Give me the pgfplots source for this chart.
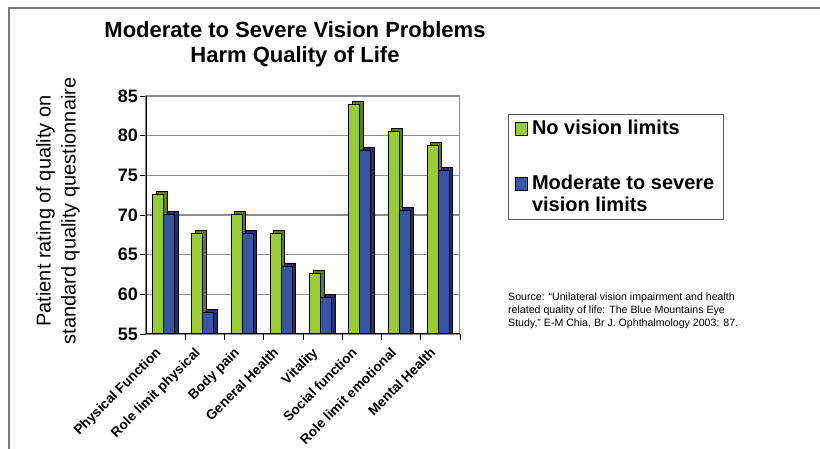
\documentclass[border=0pt]{standalone}
\usepackage{pgfplots}
\usepackage{pgfplotstable}
\pgfplotsset{compat=1.18}
\usepackage{fontspec}
\setmainfont{Liberation Sans}
\definecolor{gfront}{RGB}{153,204,51}
\definecolor{gside}{RGB}{92,124,40}
\definecolor{bfront}{RGB}{56,84,164}
\definecolor{bside}{RGB}{36,46,112}
\definecolor{framec}{RGB}{120,120,120}
\definecolor{gridc}{RGB}{140,140,140}

\pgfplotstableread{
x g b
0 72.6 70.1
1 67.7 57.7
2 70.1 67.7
3 67.7 63.6
4 62.7 59.6
5 84.0 78.1
6 80.5 70.6
7 78.8 75.6
}\data

\begin{document}
\begin{tikzpicture}[x=1pt,y=1pt]
\path[use as bounding box] (0,0) rectangle (820,449);
\draw[framec, line width=1.5pt] (9,0) -- (9,441) -- (820,441);
\node[font=\bfseries\fontsize{22}{26}\selectfont] at (295,419) {Moderate to Severe Vision Problems};
\node[font=\bfseries\fontsize{22}{26}\selectfont] at (295,392) {Harm Quality of Life};
\node[rotate=90, align=center, font=\fontsize{20}{25}\selectfont] at (58,238) {Patient rating of quality on\\standard quality questionnaire};
\node[anchor=north west, align=left, font=\fontsize{10.6}{12.8}\selectfont, inner sep=0pt] at (508,156) {Source: “Unilateral vision impairment and health\\related quality of life: The Blue Mountains Eye\\Study,” E-M Chia, Br J. Ophthalmology 2003: 87.};
\begin{axis}[
  at={(146pt,115pt)}, anchor=south west,
  scale only axis, width=314pt, height=238pt,
  xmin=-0.5, xmax=7.5, ymin=55, ymax=85,
  ytick={55,60,...,85},
  /pgf/number format/assume math mode=true,
  yticklabel style={font=\bfseries\fontsize{18}{18}\selectfont, inner sep=2pt},
  xtick={0.5,1.5,...,7.5}, xticklabels={},
  extra x ticks={0,1,2,3,4,5,6,7},
  extra x tick labels={Physical Function, Role limit physical, Body pain, General Health, Vitality, Social function, Role limit emotional, Mental Health},
  extra x tick style={major tick length=0pt, grid=none},
  xticklabel style={font=\bfseries\fontsize{13.6}{13.6}\selectfont, xshift=-11pt, yshift=-11pt, rotate=45, anchor=north east, inner sep=1pt},
  tick pos=left, tick align=outside, major tick length=6pt,
  tick style={black, line width=0.8pt},
  ymajorgrids, major grid style={gridc, line width=1.2pt},
  axis line style={gridc, line width=1pt},
  legend style={at={(1.153,0.924)}, anchor=north west, draw=black!65, line width=0.8pt,
    font=\bfseries\fontsize{20}{22}\selectfont, cells={anchor=base west, align=left},
    row sep=35pt, column sep=2pt, inner xsep=7pt, inner ysep=4pt},
  bar/.style={ybar, bar width=11pt, draw=black, line width=0.5pt},
]
\addplot[bar, bar shift=-4.2pt, fill=gside, forget plot] table[x=x, y expr=\thisrow{g}+0.38] {\data};
\addplot[bar, bar shift=-7.7pt, fill=gfront,
  legend image code/.code={\draw[fill=gfront, draw=black, line width=0.6pt] (0pt,0pt) rectangle (12pt,12.5pt);}] table[x=x, y=g] {\data};
\addplot[bar, bar shift=6.8pt, fill=bside, forget plot] table[x=x, y expr=\thisrow{b}+0.38] {\data};
\addplot[bar, bar shift=3.3pt, fill=bfront,
  legend image code/.code={\path (0pt,0pt); \draw[fill=bfront, draw=black, line width=0.6pt] (0pt,22pt) rectangle (12pt,34.5pt);}] table[x=x, y=b] {\data};
\legend{No vision limits, Moderate to severe\\vision limits}
\draw[black, line width=1.6pt] (rel axis cs:0,0) -- (rel axis cs:0,1);
\draw[black, line width=1pt] (rel axis cs:0,0) -- (rel axis cs:1,0);
\end{axis}
\end{tikzpicture}
\end{document}
